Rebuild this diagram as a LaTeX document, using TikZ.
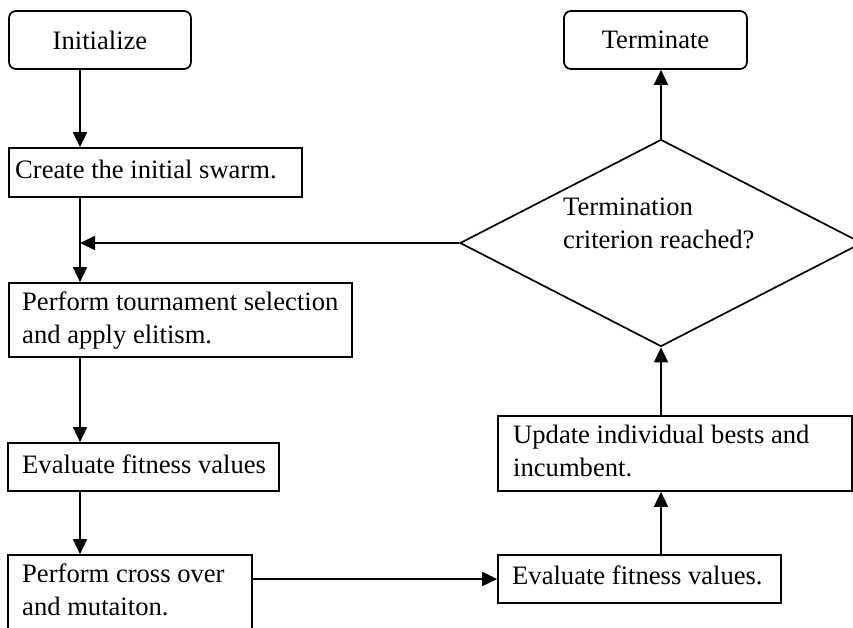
\documentclass[tikz,border=0pt]{standalone}
\usepackage{fontspec}
\setmainfont{Liberation Serif}
\usetikzlibrary{shapes.geometric,arrows.meta}
\begin{document}
\begin{tikzpicture}[x=1pt,y=-1pt,
  box/.style={draw, line width=1.7pt, rectangle, inner sep=0pt},
  rbox/.style={box, rounded corners=7pt, font=\fontsize{26.6pt}{33pt}\selectfont},
  txt/.style={inner sep=0pt, font=\fontsize{26.6pt}{33pt}\selectfont, align=left, anchor=base west},
  arr/.style={line width=1.7pt, -{Triangle[length=15pt,width=14pt]}},
]
\useasboundingbox (0,0) rectangle (853,627);
\clip (0,0) rectangle (853,627);
\coordinate (lx) at (80,0);

% boxes
\node[rbox, minimum width=182pt, minimum height=58pt] (init) at (100,40) {Initialize};
\node[rbox, minimum width=183pt, minimum height=58pt] (term) at (655.5,40) {Terminate};
\node[box, minimum width=293pt, minimum height=49pt] (create) at (155.5,172.5) {};
\node[box, minimum width=343pt, minimum height=74pt] (tour) at (180.5,320) {};
\node[box, minimum width=271pt, minimum height=48pt] (eval1) at (143.5,467) {};
\node[box, minimum width=244pt, minimum height=105pt] (cross) at (130,607.5) {};
\node[box, minimum width=283pt, minimum height=48pt] (eval2) at (639.5,579) {};
\node[box, minimum width=354pt, minimum height=75pt] (update) at (675,453.5) {};
\node[draw, line width=1.7pt, diamond, inner sep=0pt, minimum width=402pt, minimum height=207pt] (d) at (661,243) {};

% texts (base anchor = baseline of last line)
\node[txt] (createt) at (15,178) {Create the initial swarm.};
\node[txt] (tourt) at (22,343) {Perform tournament selection\\and apply elitism.};
\node[txt] (eval1t) at (22,473) {Evaluate fitness values};
\node[txt] (crosst) at (22,615) {Perform cross over\\and mutaiton.};
\node[txt] (eval2t) at (512,584) {Evaluate fitness values.};
\node[txt] (updatet) at (513,476) {Update individual bests and\\incumbent.};
\node[txt] (dt) at (563,248) {Termination\\criterion reached?};

% connectors
\draw[arr] (init.south -| lx) -- (create.north -| lx);
\draw[arr] (create.south -| lx) -- (tour.north -| lx);
\draw[arr] (d.west) -- (d.west -| lx);
\draw[arr] (tour.south -| lx) -- (eval1.north -| lx);
\draw[arr] (eval1.south -| lx) -- (cross.north -| lx);
\draw[arr] (eval2.west -| cross.east) -- (eval2.west);
\draw[arr] (d.south |- eval2.north) -- (d.south |- update.south);
\draw[arr] (d.south |- update.north) -- (d.south);
\draw[arr] (d.north) -- (d.north |- term.south);
\end{tikzpicture}
\end{document}
